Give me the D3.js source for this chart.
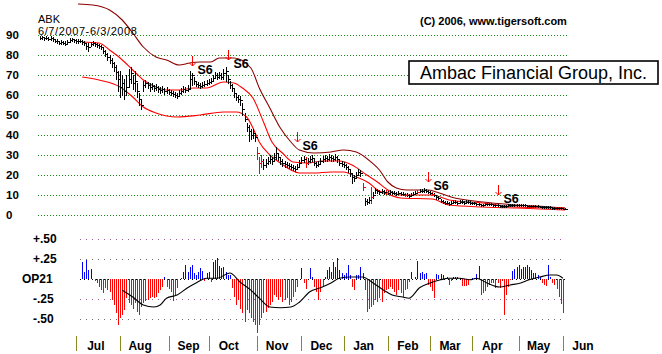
<!DOCTYPE html>
<html>
<head>
<meta charset="utf-8">
<script src="https://cdn.jsdelivr.net/npm/d3@7"></script>
<style>
  body { margin: 0; background: #fff; }
  svg { display: block; font-family: "Liberation Sans", Arial, sans-serif; }
</style>
</head>
<body>
<div id="chart"></div>
<script>
// daily bars, 6/7/2007 - 6/3/2008 (trading days)
var closes = [
  88.5,88.8,88.3,88.6,88,88.5,87.8,87,86.8,86.2,86.5,86,85.5,86.5,87.5,87.8,87.3,
  87,86.8,87.2,86.5,86,84.5,84.2,85.5,86,85.5,85,84.5,84,82,80.5,79,77.5,76,74,71.5,68,
  64,66,62,64,68,71,66,67,62,58,55,65,66,65,64,64.5,63.5,64,63,62.5,63,62,62.5,
  61.5,61,60.5,60,59.5,61,62,63,62.5,63,68,70,67,65.5,65,64.5,65,65.5,66,
  66.5,67,68.5,70,69,70,69,71,72,68,65,63.5,61,59,58,57.5,53,48,44,42,40,41,39,
  31,26,27,25,26,27,28,27,29,31,29,27,26,25.5,25,24.5,24,23.5,23,24,26,
  27.5,28,26,27,28,28.5,26,25,25.5,27,28,28.5,28,29,28.5,28,29,28,26,25.5,
  25,24,23,21,19,18.5,20,21.5,21,14,7,6.5,7.5,9,10,12.5,12,11.5,12,11.5,11.5,
  11,11.5,11,11,10.5,11,10.5,10.5,10,10,9.5,10,10.5,11,11.5,12,12,12.5,12,11.5,
  11,10.5,10,9,8.5,7,6.5,6,6,5.5,6,6.5,6.5,6,6.5,6.5,6,6.5,6.5,6,
  6,6,5.5,5.5,5,5,5.5,5.5,5.5,5.5,5,5,5,4.5,4.5,4.5,4.5,4.8,5,5,5,4.8,
  4.8,5,5,4.8,4.6,4.5,4.5,4.4,4.4,4.3,4.2,4,4,4,3.8,3.8,3.6,3.6,3.5,3.4,3.3,
  3.2,3.1
];
var highs = [
  89.5,89.5,89.2,89.3,89,89.3,88.8,88,87.8,87.2,87.3,87,86.8,87.5,88.5,88.5,88.2,
  88,87.8,88,87.5,87,86,86,86.5,87,86.5,86,85.5,85,84,82.5,81,80,78.5,76.5,75,72,
  72,70,68,70,73,74,70,72,66,61,58,67,67.5,66.5,66,66,65,65.5,64.5,64,64.5,63.5,64,
  63,62.5,62,61.5,61,62.5,63.5,64.5,64,65,72,71,69,67,66.5,66,66.5,67,67.5,
  68,68.5,70,71.5,71,71.5,71,73,74,70,67,65.5,63,61,60,59.5,56,51,46,45,43,43,41,
  34,29,30,28,28,29,30,29,31,34,31,29,28,27,26.5,26,25.5,25,24.5,25.5,27.5,
  29,29.5,29,28.5,29.5,30,28,26.5,27,28.5,29.5,30,29.5,30.5,30,29.5,30.5,29.5,28,27,
  26.5,25.5,24.5,23,21,20,21.5,23,22.5,16,8.5,8,9,14,11.5,13.5,13,12.5,13,12.5,12.5,
  12,12.3,12,11.8,11.3,11.8,11.3,11.3,10.8,10.8,10.3,10.8,11.3,11.8,12.3,12.8,12.8,13.3,12.8,12.3,
  11.8,11.3,10.8,10,9.5,8,7.3,6.8,6.8,6.3,6.8,7.3,7.3,6.8,7.3,7.3,6.8,7.3,7.3,6.8,
  6.6,6.6,6.1,6.1,5.6,5.6,6.1,6.1,6.1,6.1,5.6,5.6,5.6,5.1,5.1,5.1,5.1,5.4,5.6,5.6,5.6,5.4,
  5.3,5.5,5.5,5.3,5.1,5,5,4.9,4.9,4.8,4.7,4.5,4.5,4.5,4.3,4.3,4.1,4.1,4,3.9,3.8,
  3.6,3.5
];
var lows = [
  88,88,87.5,87.8,87.3,87.6,87,86.3,86,85.5,85.7,85.3,84.8,85.7,86.7,87,86.5,
  86.2,86,86.3,85.7,85.2,83,82,84.5,85,84.7,84.2,83.7,83,81,79.5,77.5,76,74,72,68,62,
  59,60,58,60,64,66,63,62,59,55,53,62,64,63.5,62,63,62,62.5,61.5,61,61.5,60.5,61,
  60.5,60,59.5,59,58.5,59.5,60.5,61.5,61.5,62,63,65,65.5,64.5,64,63.5,64,64.5,65,
  65.5,66,67,68.5,68,68.5,68,68,67,66,63.5,62,59,57.5,56.5,55,50,47,42,37,38,38.5,37,
  28,21,24,23,24,25.5,26,25.5,27.5,28,27.5,25.5,24.5,24,24,23.5,23,22.5,22,23,24.5,
  26,26.5,24,25.5,26.5,27,25,24,24.5,25.5,26.5,27,27,27.5,27,27,27.5,26.5,25,24.5,
  24,23,21.5,19.5,16,17,18.5,20,19.5,12.5,5,5.5,6,6,8.5,11,11,10.5,11,10.5,10.5,
  10.3,10.7,10.3,10.3,9.8,10.3,9.8,9.8,9.3,9.3,8.8,9.3,9.8,10.3,10.8,11.3,11.3,11.7,11.3,10.8,
  10.3,9.8,9.3,8.2,7.8,6.3,5.8,5.4,5.4,5,5.4,5.9,5.9,5.4,5.9,5.9,5.4,5.9,5.9,5.4,
  5.5,5.5,5,5,4.5,4.5,5,5,5,5,4.5,4.5,4.5,4.1,4.1,4.1,4.1,4.3,4.5,4.5,4.5,4.3,
  4.4,4.6,4.6,4.4,4.2,4.1,4.1,4,4,3.9,3.8,3.6,3.6,3.6,3.4,3.4,3.2,3.2,3.1,3,2.9,
  2.9,2.8
];
var redBars = [103, 104, 105, 126, 153, 157, 164, 173, 179, 186];

// bands: [day, price]
var outerBand = [[18,105.5],[25,105],[33,102.5],[39,97.5],[44,91],[49,84],[55,79],[60,77.5],[66,75],[71,76],[76,76.5],[81,76.5],[85,78.5],[92,78.5],[100,73.5],[104,63.5],[109,53.5],[114,43.5],[119,36.5],[123,32.5],[130,31],[138,31.5],[144,32.5],[150,31.5],[157,26.5],[161,22.5],[165,16.5],[169,13.5],[174,12.5],[184,12.5],[188,11.5],[195,9],[210,6.5],[226,5],[242,4],[249,3.5]];
var upperBand = [[20,86.5],[28,86],[33,82.5],[38,78.5],[44,72.5],[49,67.5],[55,64],[60,62.5],[66,62.5],[73,63.5],[79,63.5],[87,66.5],[92,66],[96,63.5],[101,58.5],[106,46.5],[110,36.5],[115,31],[120,26.5],[127,26],[134,27],[142,27],[148,25],[155,20],[160,16.5],[165,12.5],[171,10],[186,10],[194,7.5],[210,6],[226,4],[249,3.5]];
var lowerBand = [[20,69],[28,67.5],[38,64],[44,59],[49,54],[55,51],[65,49],[76,50],[87,51.5],[93,51.5],[98,49],[101,43.5],[104,36.5],[109,30],[114,26],[119,22.5],[123,21],[130,21],[138,21.5],[144,21.5],[150,19],[156,16],[160,12.5],[166,10],[171,8.5],[186,8],[194,5],[210,4],[226,3.5],[249,2.5]];

// S6 sell signals: day and price level of arrow tip
var signalDays = [72, 89, 122, 184, 217];
var signalLevels = [74.5, 77.5, 36.5, 16.5, 10];

// OP21 indicator, starting at day 20
var op21Start = 20;
var op21 = [
  0.21,0.09,0.24,0.11,0.12,0.00,-0.02,-0.05,-0.10,-0.14,
  -0.18,-0.11,-0.14,-0.16,-0.26,-0.33,-0.43,-0.58,-0.49,-0.45,
  -0.39,-0.24,-0.30,-0.33,-0.37,-0.30,-0.41,-0.45,-0.35,-0.30,
  -0.28,-0.26,-0.24,-0.22,-0.24,-0.22,-0.18,-0.14,-0.10,0.03,
  -0.10,-0.13,-0.16,-0.28,-0.20,-0.11,0.00,0.01,0.09,0.17,
  0.09,0.15,0.17,0.07,0.05,0.09,0.14,0.10,-0.02,0.07,
  0.09,-0.04,0.21,0.24,0.26,0.16,0.14,0.15,0.09,0.05,
  0.05,-0.11,-0.22,-0.33,-0.26,-0.37,-0.43,-0.54,-0.39,-0.43,
  -0.49,-0.54,-0.58,-0.68,-0.58,-0.49,-0.43,-0.41,-0.36,-0.33,
  -0.29,-0.20,-0.22,-0.26,-0.22,-0.29,-0.26,-0.24,-0.33,-0.29,
  -0.22,-0.16,-0.10,0.00,0.14,-0.05,-0.12,0.00,0.14,0.03,
  -0.10,-0.16,-0.26,-0.16,-0.10,0.02,0.11,0.15,0.09,0.21,
  0.15,0.26,0.11,0.07,0.05,0.07,0.18,0.05,-0.10,-0.14,
  0.05,0.05,0.15,0.07,-0.14,-0.41,-0.38,-0.35,-0.33,-0.26,
  -0.29,-0.24,-0.29,-0.18,-0.14,-0.12,-0.10,-0.12,-0.16,-0.20,
  -0.14,-0.18,-0.22,-0.14,-0.12,-0.04,0.09,0.00,0.02,0.22,
  0.07,0.09,0.06,0.08,-0.08,-0.10,-0.15,-0.24,0.06,0.05,
  0.06,0.05,0.01,0.02,-0.07,-0.02,0.02,0.03,0.02,0.01,
  -0.09,-0.09,-0.09,-0.07,-0.01,0.01,0.01,0.06,0.16,-0.20,
  -0.18,-0.15,-0.10,-0.07,-0.05,-0.05,-0.11,-0.05,-0.11,-0.02,
  -0.45,-0.20,-0.10,-0.01,0.10,0.12,0.15,0.17,0.12,0.15,
  0.15,0.18,0.15,0.11,0.07,0.07,0.05,0.02,-0.05,-0.07,
  -0.09,0.18,0.02,-0.05,-0.08,-0.12,-0.22,-0.31,-0.43
];
var op21Avg = [[39,-0.14],[44,-0.225],[49,-0.325],[54,-0.35],[57,-0.325],[60,-0.24],[65,-0.2],[70,-0.11],[74,-0.05],[79,0.01],[84,0.01],[90,0.075],[95,-0.04],[100,-0.14],[104,-0.24],[109,-0.35],[114,-0.36],[119,-0.35],[123,-0.29],[128,-0.16],[133,-0.11],[138,-0.05],[142,0.01],[147,0.025],[153,0.025],[158,-0.05],[163,-0.14],[167,-0.2],[172,-0.225],[175,-0.24],[180,-0.11],[185,-0.05],[190,-0.01],[194,0.01],[199,0.01],[204,-0.01],[207,0.01],[212,-0.05],[218,-0.1],[223,-0.075],[228,-0.05],[232,-0.01],[237,0.025],[242,0.05],[245,0.05],[248,0.01]];

var priceTicks = [0, 10, 20, 30, 40, 50, 60, 70, 80, 90];
var opTicks = [0.5, 0.25, -0.25, -0.5];
var opTickLabels = ["+.50", "+.25", "-.25", "-.50"];
var monthNames = ["Jul","Aug","Sep","Oct","Nov","Dec","Jan","Feb","Mar","Apr","May","Jun"];
var monthStarts = [17, 38, 61, 80, 103, 124, 144, 165, 185, 205, 227, 248];

var svgWidth = 662;
var svgHeight = 354;

var svg = d3.select("#chart")
  .append("svg")
  .attr("width", svgWidth)
  .attr("height", svgHeight);

var x = d3.scaleLinear().domain([0, closes.length - 1]).range([40, 565]);
var y = d3.scaleLinear().domain([0, 90]).range([215, 35]);
var yOp = d3.scaleLinear().domain([-0.5, 0.5]).range([319, 239]);

function px(v) { return Math.round(v) + 0.5; }

//---------------------------------------------------------------------
// price panel gridlines and labels
svg.append("g").selectAll("line")
  .data(priceTicks)
  .join("line")
  .attr("x1", 38).attr("x2", 567)
  .attr("y1", d => px(y(d))).attr("y2", d => px(y(d)))
  .attr("stroke", "#1a8a1a")
  .attr("stroke-dasharray", "1,2");

svg.append("g").selectAll("text")
  .data(priceTicks)
  .join("text")
  .attr("x", 6)
  .attr("y", d => y(d) + 4)
  .attr("font-size", 11.5)
  .attr("font-weight", "bold")
  .text(d => d);

// bands
var bandLine = d3.line()
  .x(d => x(d[0]))
  .y(d => y(d[1]))
  .curve(d3.curveMonotoneX);

svg.append("path").datum(outerBand)
  .attr("d", bandLine).attr("fill", "none")
  .attr("stroke", "#8b0000").attr("stroke-width", 1.1);
svg.append("path").datum(upperBand)
  .attr("d", bandLine).attr("fill", "none")
  .attr("stroke", "#ff0000").attr("stroke-width", 1.1);
svg.append("path").datum(lowerBand)
  .attr("d", bandLine).attr("fill", "none")
  .attr("stroke", "#ff0000").attr("stroke-width", 1.1);

// price bars
var bars = svg.append("g");
bars.selectAll("line.hl")
  .data(closes)
  .join("line")
  .attr("class", "hl")
  .attr("x1", (d, i) => px(x(i))).attr("x2", (d, i) => px(x(i)))
  .attr("y1", (d, i) => Math.round(y(highs[i])))
  .attr("y2", (d, i) => Math.round(y(lows[i])) + 1)
  .attr("stroke", (d, i) => redBars.includes(i) ? "#ff0000" : "#000");

bars.selectAll("line.cl")
  .data(closes)
  .join("line")
  .attr("class", "cl")
  .attr("x1", (d, i) => Math.round(x(i)) + 1).attr("x2", (d, i) => Math.round(x(i)) + 3)
  .attr("y1", d => px(y(d))).attr("y2", d => px(y(d)))
  .attr("stroke", (d, i) => redBars.includes(i) ? "#ff0000" : "#000");

// S6 signals
var sig = svg.append("g").selectAll("g")
  .data(signalDays)
  .join("g")
  .attr("transform", (d, i) => `translate(${px(x(d))}, ${Math.round(y(signalLevels[i]))})`);

sig.append("path")
  .attr("d", "M0,-10V0M-3,-3L0,0L3,-3")
  .attr("fill", "none")
  .attr("stroke", "#ff0000");

sig.append("text")
  .attr("x", 5).attr("y", 8)
  .attr("font-size", 12.5)
  .attr("font-weight", "bold")
  .text("S6");

// titles
svg.append("text").attr("x", 38).attr("y", 23).attr("font-size", 11).text("ABK");
svg.append("text").attr("x", 38).attr("y", 35).attr("font-size", 11)
  .attr("letter-spacing", 0.6).text("6/7/2007-6/3/2008");
svg.append("text").attr("x", 420).attr("y", 25).attr("font-size", 11)
  .attr("font-weight", "bold").text("(C) 2006, www.tigersoft.com");

svg.append("rect")
  .attr("x", 409).attr("y", 61).attr("width", 249).attr("height", 23)
  .attr("fill", "#fff").attr("stroke", "#000").attr("stroke-width", 1.6);
svg.append("text").attr("x", 420).attr("y", 79).attr("font-size", 18)
  .text("Ambac Financial Group, Inc.");

//---------------------------------------------------------------------
// OP21 panel
svg.append("g").selectAll("line")
  .data(opTicks)
  .join("line")
  .attr("x1", 80).attr("x2", 566)
  .attr("y1", d => px(yOp(d))).attr("y2", d => px(yOp(d)))
  .attr("stroke", (d, i) => i % 2 === 0 ? "#a0609a" : "#707070")
  .attr("stroke-dasharray", "1,5");

svg.append("line")
  .attr("x1", 80).attr("x2", 566)
  .attr("y1", px(yOp(0))).attr("y2", px(yOp(0)))
  .attr("stroke", "#000").attr("stroke-dasharray", "1,3");

svg.append("g").selectAll("text")
  .data(opTicks)
  .join("text")
  .attr("x", 33)
  .attr("y", d => yOp(d) + 4)
  .attr("font-size", 12)
  .attr("font-weight", "bold")
  .text((d, i) => opTickLabels[i]);

svg.append("text").attr("x", 22).attr("y", yOp(0) + 4)
  .attr("font-size", 12).attr("font-weight", "bold").text("OP21");

svg.append("g").selectAll("line")
  .data(op21)
  .join("line")
  .attr("x1", (d, i) => px(x(i + op21Start))).attr("x2", (d, i) => px(x(i + op21Start)))
  .attr("y1", Math.round(yOp(0)))
  .attr("y2", d => Math.round(yOp(d)))
  .attr("stroke", d => d >= 0 ? "#0000ff" : "#ff0000");

svg.append("path").datum(op21Avg)
  .attr("d", d3.line().x(d => x(d[0])).y(d => yOp(d[1])).curve(d3.curveMonotoneX))
  .attr("fill", "none").attr("stroke", "#000").attr("stroke-width", 1.1);

// month axis
svg.append("g").selectAll("line")
  .data(monthStarts)
  .join("line")
  .attr("x1", d => px(x(d))).attr("x2", d => px(x(d)))
  .attr("y1", 336).attr("y2", 351)
  .attr("stroke", "#8a8a20");

svg.append("g").selectAll("text")
  .data(monthStarts)
  .join("text")
  .attr("x", d => x(d) + 20)
  .attr("y", 350)
  .attr("text-anchor", "middle")
  .attr("font-size", 12)
  .attr("font-weight", "bold")
  .text((d, i) => monthNames[i]);

// legend line cut off at the bottom edge
svg.append("text").attr("x", 0).attr("y", 363).attr("font-size", 12).attr("font-weight", "bold")
  .text("On Bal Vol Data Bars      blue bars show buying      tiger bands      LOP21 below      Add to ticker NCI");
</script>
</body>
</html>
